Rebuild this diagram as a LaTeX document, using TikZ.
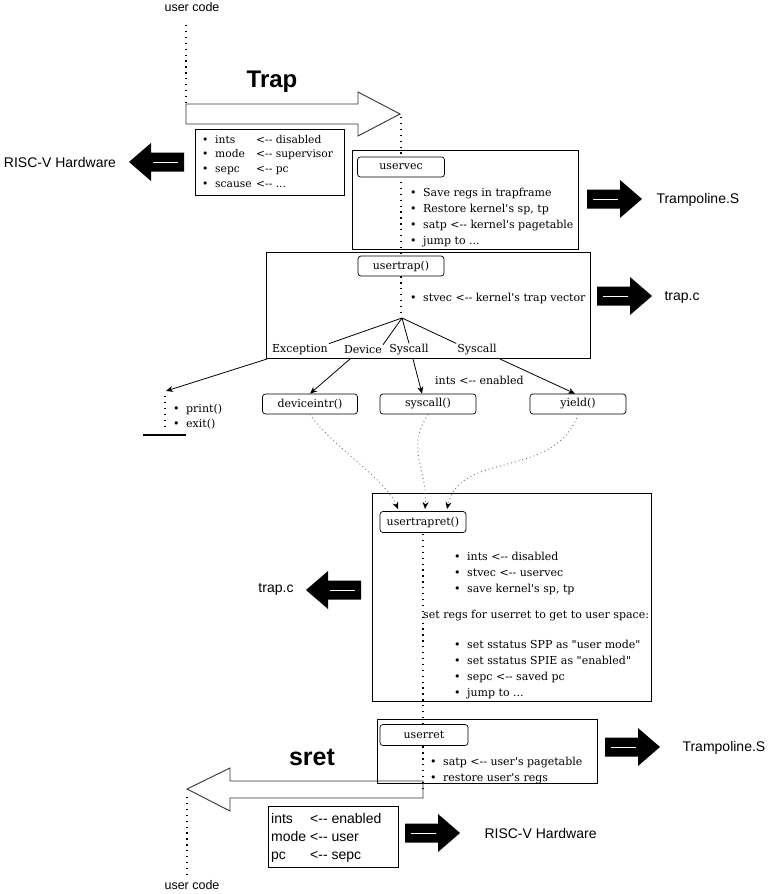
\documentclass[tikz,border=0pt]{standalone}
\usepackage{fontspec}
\setmainfont{DejaVu Serif}[Ligatures=TeXOff]
\newfontfamily\sansf{Liberation Sans}[Ligatures=TeXOff]
\usetikzlibrary{arrows.meta}
\tikzset{
  ssf/.style={font=\sansf\fontsize{14}{16}\selectfont},
  bigbox/.style={draw, line width=1.3pt, inner sep=0, anchor=north west},
  rbox/.style={draw, fill=white, rounded corners=3pt, line width=0.7pt, inner sep=0, font=\fontsize{11}{13}\selectfont},
  dots/.style={line width=1.4pt, dash pattern=on 1.3pt off 4.6pt},
  fdots/.style={draw=black!55, line width=0.9pt, dash pattern=on 0.9pt off 3pt, -{Stealth[length=7pt,width=6pt,black]}},
  ln/.style={anchor=base west, inner sep=0, font=\fontsize{11}{13}\selectfont},
  lbl/.style={inner sep=1pt, font=\fontsize{11}{13}\selectfont},
  hollow/.style={draw=black!80, line width=0.9pt},
  conn/.style={line width=0.8pt},
  arr/.style={line width=0.8pt, -{Stealth[length=7pt,width=6pt]}},
  blkarrow/.pic={\fill (0,-9.5) -- (33,-9.5) -- (33,-19) -- (55,0) -- (33,19) -- (33,9.5) -- (0,9.5) -- cycle;
                 \draw[white, line width=0.4pt] (6,0) -- (31,0);}
}
\newcommand\bul{\makebox[13pt][l]{\textbullet}}
\newcommand\tdots{...}
\begin{document}
\begin{tikzpicture}[x=1pt,y=-1pt]
\fill[white] (0,0) rectangle (769,894);
\useasboundingbox (0,0) rectangle (769,894);

% ---------- dotted flow lines ----------
\draw[dots] (186,25) -- (186,102);
\draw[dots] (401,117) -- (401,318);
\draw[dots] (165,396) -- (165,430);
\draw[dots] (423,534) -- (423,790);
\draw[dots] (187,797) -- (187,876);

% ---------- top ----------
\node[font=\sansf\fontsize{12.5}{14}\selectfont] (uc1) at (192,7) {user code};
\node[font=\sansf\bfseries\fontsize{24}{28}\selectfont] (trap) at (272,82) {Trap};
\draw[hollow] (186,104) -- (358,104) -- (358,92) -- (400,114) -- (358,136) -- (358,124) -- (186,124) -- cycle;

% hardware box (top)
\node[bigbox, line width=1.1pt, minimum width=149pt, minimum height=66pt] (hw1) at (195,129) {};
\foreach \a/\b [count=\i] in {ints/disabled, mode/supervisor, sepc/pc, scause/\tdots}
  \node[ln, font=\fontsize{10.7}{12}\selectfont] (hwl\i) at (202,143+14.7*\i-14.7) {\bul\makebox[41pt][l]{\a}<-- \b};
\node[ssf] (rv1) at (60,162) {RISC-V Hardware};
\pic[rotate=180] at (184,162) {blkarrow};

% ---------- uservec ----------
\node[bigbox, minimum width=226pt, minimum height=99pt] (uvbox) at (352,150) {};
\node[rbox, minimum width=87pt, minimum height=20pt] (uv) at (401,167) {uservec};
\foreach \t [count=\i] in {{Save regs in trapframe},{Restore kernel's sp, tp},{satp <-- kernel's pagetable},{jump to \tdots}}
  \node[ln] (uvl\i) at (410,196+16*\i-16) {\bul\t};
\pic at (587,199) {blkarrow};
\node[ssf, anchor=west] (tr1) at (653,200) {Trampoline.S};

% ---------- usertrap ----------
\node[bigbox, minimum width=324pt, minimum height=106pt] (utbox) at (266,252) {};
\node[rbox, minimum width=86pt, minimum height=20pt] (ut) at (401,266) {usertrap()};
\node[ln] (utl1) at (410,301) {\bul stvec <-- kernel's trap vector};
\pic at (597,296) {blkarrow};
\node[ssf, anchor=west] (tc1) at (661,297) {trap.c};

\coordinate (tp) at (402,318);
\node[lbl] (ex) at (300,350) {Exception};
\node[lbl] (dv) at (363,350) {Device};
\node[lbl] (sc1) at (409,350) {Syscall};
\node[lbl] (sc2) at (477,350) {Syscall};
\draw[conn] (tp) -- (ex.north east);
\draw[conn] (tp) -- (dv.north east);
\draw[conn] (tp) -- (sc1.north);
\draw[conn] (tp) -- (sc2.north west);

% ---------- handlers ----------
\node[rbox, minimum width=95pt, minimum height=20pt] (dev) at (310,404) {deviceintr()};
\node[rbox, minimum width=96pt, minimum height=20pt] (sys) at (428,404) {syscall()};
\node[rbox, minimum width=96pt, minimum height=20pt] (yl) at (578,404) {yield()};
\coordinate (pe) at (166,391);
\coordinate (b1) at (267,359);
\coordinate (b2) at (350,359);
\coordinate (b3) at (413,359);
\coordinate (b4) at (500,359);
\draw[arr] (b1) -- (pe);
\draw[arr] (b2) -- (dev.north);
\draw[arr] (b3) -- ([xshift=-6pt]sys.north);
\draw[arr] (b4) -- ([xshift=-3pt]yl.north);
\node[ln] (ie) at (435,384) {ints <-- enabled};
\node[ln] (pr) at (173,412) {\bul print()};
\node[ln] (ext) at (173,427) {\bul exit()};
\draw[line width=2.6pt] (143,435) -- (186,435);

% ---------- usertrapret ----------
\node[bigbox, minimum width=279pt, minimum height=208pt] (urbox) at (372,493) {};
\node[rbox, minimum width=86pt, minimum height=21pt] (utr) at (423,522) {usertrapret()};
\coordinate (ta1) at (398,509);
\coordinate (ta2) at (425,509);
\coordinate (ta3) at (447,509);
\draw[fdots] (dev.south) .. controls (330,445) and (385,478) .. (ta1);
\draw[fdots] (sys.south) .. controls (405,450) and (428,470) .. (ta2);
\draw[fdots] (yl.south) .. controls (555,480) and (460,450) .. (ta3);
\foreach \t [count=\i] in {{ints <-- disabled},{stvec <-- uservec},{save kernel's sp, tp}}
  \node[ln] (url\i) at (454,560+16*\i-16) {\bul\t};
\node[ln] (urs) at (423,618) {set regs for userret to get to user space:};
\foreach \t [count=\i] in {{set sstatus SPP as "user mode"},{set sstatus SPIE as "enabled"},{sepc <-- saved pc},{jump to \tdots}}
  \node[ln] (urm\i) at (454,648+16*\i-16) {\bul\t};
\pic[rotate=180] at (361,590) {blkarrow};
\node[ssf] (tc2) at (276,589) {trap.c};

% ---------- userret ----------
\node[bigbox, minimum width=220pt, minimum height=64pt] (uebox) at (377,719) {};
\node[rbox, minimum width=88pt, minimum height=21pt] (ue) at (424,735) {userret};
\foreach \t [count=\i] in {{satp <-- user's pagetable},{restore user's regs}}
  \node[ln] (uel\i) at (430,765+16*\i-16) {\bul\t};
\pic at (605,747) {blkarrow};
\node[ssf, anchor=west] (tr2) at (679,748) {Trampoline.S};

% ---------- sret ----------
\node[font=\sansf\bfseries\fontsize{25}{28}\selectfont] (sret) at (312,757) {sret};
\draw[hollow] (423,781) -- (230,781) -- (230,768) -- (187,789) -- (230,811) -- (230,798) -- (423,798) -- cycle;

\node[bigbox, line width=1.1pt, minimum width=130pt, minimum height=61pt] (hw2) at (268,806) {};
\foreach \a/\b [count=\i] in {ints/enabled, mode/user, pc/sepc}
  \node[anchor=base west, inner sep=0, font=\sansf\fontsize{14}{16}\selectfont] (hwm\i) at (271,823+18*\i-18) {\makebox[39pt][l]{\a}<-- \b};
\pic at (405,833) {blkarrow};
\node[ssf, anchor=west] (rv2) at (481,833) {RISC-V Hardware};
\node[font=\sansf\fontsize{12.5}{14}\selectfont] (uc2) at (192,885) {user code};
\end{tikzpicture}
\end{document}
